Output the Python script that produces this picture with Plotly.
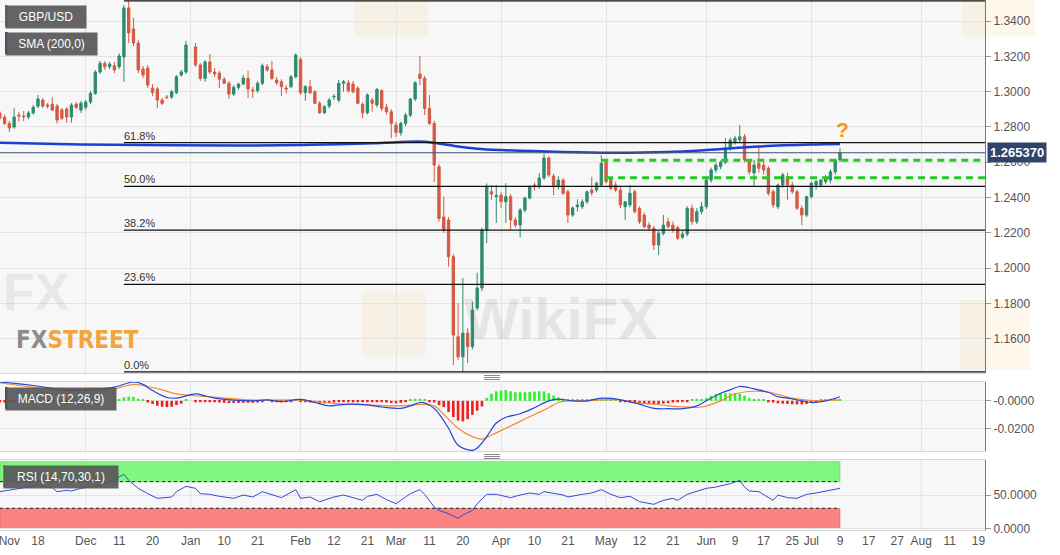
import pandas as pd
import plotly.graph_objects as go
from plotly.subplots import make_subplots

# ---------------- data ----------------
# one candle per weekday, Nov 6 2019 .. Jul 9 2020 (no candle on Jan 1)
dates = [d.strftime("%Y-%m-%d") for d in pd.bdate_range("2019-11-06", "2020-07-09")
         if d.strftime("%Y-%m-%d") != "2020-01-01"]

opens = [
    1.2879, 1.2856, 1.2820,
    1.2799, 1.2867, 1.2862, 1.2856, 1.2879,
    1.2918, 1.2952, 1.2924, 1.2928, 1.2918,
    1.2896, 1.2901, 1.2856, 1.2928, 1.2896,
    1.2911, 1.2941, 1.2990, 1.3111, 1.3160,
    1.3141, 1.3147, 1.3141, 1.3196, 1.3474,
    1.3355, 1.3275, 1.3128, 1.3134, 1.3020,
    1.3015, 1.2952, 1.2969, 1.2969, 1.2994,
    1.3094, 1.3111, 1.3253, 1.3151,
    1.3075, 1.3168, 1.3111, 1.3105, 1.3070,
    1.3047, 1.2986, 1.3024, 1.3043, 1.3075,
    1.3009, 1.3005, 1.3047, 1.3141, 1.3123,
    1.3066, 1.3056, 1.3020, 1.3028, 1.3084,
    1.3183, 1.2994, 1.3028, 1.2999, 1.2934,
    1.2880, 1.2918, 1.2969, 1.2952, 1.3047,
    1.3050, 1.3043, 1.3020, 1.2928, 1.2880,
    1.2952, 1.2924, 1.3005, 1.2911, 1.2886,
    1.2811, 1.2767, 1.2820, 1.2867, 1.2958,
    1.3100, 1.3075, 1.2905, 1.2820, 1.2575,
    1.2290, 1.2273, 1.2065, 1.1611, 1.1498,
    1.1632, 1.1555, 1.1774, 1.1887, 1.2216,
    1.2433, 1.2405, 1.2414, 1.2376, 1.2405,
    1.2273, 1.2244, 1.2329, 1.2397, 1.2471,
    1.2461, 1.2511, 1.2624, 1.2522, 1.2461,
    1.2499, 1.2433, 1.2301, 1.2348, 1.2348,
    1.2376, 1.2442, 1.2442, 1.2471, 1.2600,
    1.2503, 1.2471, 1.2442, 1.2348, 1.2358,
    1.2433, 1.2339, 1.2301, 1.2244, 1.2226,
    1.2131, 1.2197, 1.2263, 1.2244, 1.2230,
    1.2175, 1.2193, 1.2339, 1.2263, 1.2320,
    1.2348, 1.2499, 1.2556, 1.2575, 1.2600,
    1.2679, 1.2716, 1.2726, 1.2744, 1.2603,
    1.2539, 1.2594, 1.2584, 1.2566, 1.2433,
    1.2348, 1.2471, 1.2518, 1.2471, 1.2433,
    1.2339, 1.2301, 1.2405, 1.2471, 1.2471,
    1.2490, 1.2499, 1.2546, 1.2613,
]
highs = [
    1.2890, 1.2870, 1.2833,
    1.2907, 1.2884, 1.2890, 1.2890, 1.2925,
    1.2981, 1.2964, 1.2935, 1.2969, 1.2930,
    1.2907, 1.2913, 1.2935, 1.2941, 1.2947,
    1.2952, 1.3003, 1.3122, 1.3173, 1.3173,
    1.3168, 1.3168, 1.3217, 1.3491, 1.3514,
    1.3417, 1.3292, 1.3145, 1.3150, 1.3043,
    1.3026, 1.2964, 1.2981, 1.3009, 1.3094,
    1.3123, 1.3287, 1.3275, 1.3162,
    1.3179, 1.3213, 1.3134, 1.3117, 1.3084,
    1.3060, 1.3037, 1.3050, 1.3094, 1.3118,
    1.3028, 1.3060, 1.3160, 1.3156, 1.3173,
    1.3084, 1.3070, 1.3037, 1.3094, 1.3217,
    1.3195, 1.3037, 1.3066, 1.3009, 1.2946,
    1.2924, 1.2964, 1.2986, 1.3066, 1.3066,
    1.3066, 1.3060, 1.3030, 1.2940, 1.2990,
    1.2964, 1.3020, 1.3015, 1.2930, 1.2900,
    1.2830, 1.2830, 1.2880, 1.2964, 1.3060,
    1.3202, 1.3090, 1.2981, 1.2835, 1.2590,
    1.2405, 1.2290, 1.2080, 1.1802, 1.1944,
    1.1660, 1.1810, 1.1974, 1.2230, 1.2480,
    1.2471, 1.2471, 1.2430, 1.2481, 1.2420,
    1.2290, 1.2340, 1.2405, 1.2470, 1.2485,
    1.2539, 1.2647, 1.2635, 1.2535, 1.2520,
    1.2510, 1.2445, 1.2350, 1.2390, 1.2390,
    1.2440, 1.2518, 1.2490, 1.2641, 1.2615,
    1.2515, 1.2490, 1.2460, 1.2375, 1.2471,
    1.2445, 1.2350, 1.2315, 1.2260, 1.2240,
    1.2210, 1.2301, 1.2285, 1.2265, 1.2240,
    1.2210, 1.2350, 1.2360, 1.2340, 1.2375,
    1.2510, 1.2570, 1.2595, 1.2610, 1.2737,
    1.2740, 1.2750, 1.2810, 1.2760, 1.2615,
    1.2613, 1.2688, 1.2610, 1.2580, 1.2445,
    1.2480, 1.2540, 1.2540, 1.2490, 1.2445,
    1.2355, 1.2410, 1.2490, 1.2500, 1.2505,
    1.2530, 1.2560, 1.2620, 1.2679,
]
lows = [
    1.2839, 1.2811, 1.2771,
    1.2790, 1.2830, 1.2833, 1.2845, 1.2870,
    1.2907, 1.2907, 1.2905, 1.2890, 1.2820,
    1.2839, 1.2824, 1.2824, 1.2901, 1.2879,
    1.2896, 1.2928, 1.2981, 1.3100, 1.3123,
    1.3128, 1.3105, 1.3128, 1.3056, 1.3275,
    1.3258, 1.3105, 1.3077, 1.3020, 1.2975,
    1.2905, 1.2924, 1.2958, 1.2958, 1.2986,
    1.3084, 1.3100, 1.3141, 1.3060,
    1.3056, 1.3100, 1.3084, 1.3020, 1.3043,
    1.2958, 1.2975, 1.3009, 1.3037, 1.2964,
    1.2964, 1.2994, 1.3037, 1.3111, 1.3066,
    1.3037, 1.2975, 1.2990, 1.3020, 1.3075,
    1.2981, 1.2948, 1.2986, 1.2928, 1.2873,
    1.2873, 1.2905, 1.2952, 1.2940, 1.2999,
    1.2994, 1.2990, 1.2928, 1.2849, 1.2870,
    1.2886, 1.2911, 1.2890, 1.2870, 1.2737,
    1.2743, 1.2750, 1.2805, 1.2856, 1.2946,
    1.3037, 1.2867, 1.2811, 1.2488, 1.2263,
    1.2200, 1.2008, 1.1451, 1.1480, 1.1412,
    1.1462, 1.1540, 1.1760, 1.1870, 1.2142,
    1.2386, 1.2256, 1.2341, 1.2256, 1.2216,
    1.2230, 1.2175, 1.2315, 1.2390, 1.2440,
    1.2450, 1.2500, 1.2515, 1.2414, 1.2445,
    1.2415, 1.2256, 1.2290, 1.2320, 1.2335,
    1.2365, 1.2410, 1.2430, 1.2460, 1.2480,
    1.2440, 1.2430, 1.2340, 1.2273, 1.2345,
    1.2310, 1.2250, 1.2225, 1.2210, 1.2103,
    1.2075, 1.2185, 1.2225, 1.2200, 1.2160,
    1.2165, 1.2180, 1.2245, 1.2250, 1.2305,
    1.2335, 1.2485, 1.2540, 1.2560, 1.2590,
    1.2665, 1.2700, 1.2715, 1.2600, 1.2530,
    1.2461, 1.2540, 1.2530, 1.2410, 1.2340,
    1.2335, 1.2455, 1.2386, 1.2420, 1.2330,
    1.2244, 1.2290, 1.2395, 1.2445, 1.2460,
    1.2475, 1.2480, 1.2530, 1.2600,
]
closes = [
    1.2850, 1.2820, 1.2794,
    1.2856, 1.2862, 1.2858, 1.2879, 1.2911,
    1.2958, 1.2918, 1.2918, 1.2896, 1.2839,
    1.2849, 1.2856, 1.2924, 1.2911, 1.2934,
    1.2941, 1.2990, 1.3111, 1.3160, 1.3141,
    1.3156, 1.3123, 1.3202, 1.3474, 1.3332,
    1.3275, 1.3123, 1.3094, 1.3037, 1.2994,
    1.2952, 1.2934, 1.2966, 1.2999, 1.3084,
    1.3111, 1.3264, 1.3151, 1.3075,
    1.3168, 1.3111, 1.3100, 1.3070, 1.3047,
    1.2986, 1.3024, 1.3043, 1.3077, 1.3015,
    1.3005, 1.3047, 1.3147, 1.3123, 1.3075,
    1.3050, 1.3028, 1.3015, 1.3084, 1.3207,
    1.2994, 1.3028, 1.2994, 1.2934, 1.2880,
    1.2914, 1.2952, 1.2973, 1.3047, 1.3056,
    1.3005, 1.2999, 1.2934, 1.2880, 1.2981,
    1.2934, 1.3013, 1.2905, 1.2886, 1.2820,
    1.2769, 1.2820, 1.2867, 1.2958, 1.3050,
    1.3075, 1.2905, 1.2820, 1.2584, 1.2282,
    1.2216, 1.2065, 1.1621, 1.1498, 1.1632,
    1.1555, 1.1763, 1.1887, 1.2216, 1.2461,
    1.2420, 1.2411, 1.2376, 1.2405, 1.2273,
    1.2244, 1.2329, 1.2397, 1.2461, 1.2461,
    1.2511, 1.2624, 1.2528, 1.2461, 1.2499,
    1.2424, 1.2301, 1.2341, 1.2358, 1.2376,
    1.2433, 1.2427, 1.2481, 1.2594, 1.2490,
    1.2452, 1.2442, 1.2358, 1.2376, 1.2424,
    1.2320, 1.2263, 1.2235, 1.2226, 1.2131,
    1.2197, 1.2244, 1.2235, 1.2216, 1.2169,
    1.2193, 1.2339, 1.2263, 1.2320, 1.2348,
    1.2499, 1.2556, 1.2584, 1.2600, 1.2679,
    1.2726, 1.2735, 1.2744, 1.2613, 1.2546,
    1.2584, 1.2566, 1.2556, 1.2424, 1.2358,
    1.2471, 1.2528, 1.2471, 1.2433, 1.2339,
    1.2301, 1.2405, 1.2481, 1.2490, 1.2499,
    1.2511, 1.2546, 1.2613, 1.26537,
]

# MACD histogram, one bar per candle
macd_hist = [
    -0.0012, -0.0012, -0.0012,
    -0.0010, -0.0010, -0.0010, -0.0010, -0.0010,
    -0.0010, -0.0010, -0.0010, -0.0010, -0.0010,
    -0.0010, -0.0010, -0.0010, -0.0010, -0.0010,
    0.0010, 0.0010, 0.0010, 0.0010, 0.0010,
    0.0010, 0.0010, 0.0012, 0.0025, 0.0030,
    0.0028, 0.0015, 0.0010, -0.0012, -0.0022,
    -0.0035, -0.0042, -0.0045, -0.0042, -0.0030,
    -0.0020, 0.0010, -0.0010, -0.0010,
    -0.0010, -0.0010, -0.0010, -0.0012, -0.0014,
    -0.0016, -0.0016, -0.0015, -0.0014, -0.0014,
    -0.0014, -0.0012, -0.0010, 0.0010, -0.0010,
    -0.0010, -0.0010, -0.0010, -0.0010, 0.0010,
    -0.0010, -0.0010, -0.0012, -0.0015, -0.0017,
    -0.0017, -0.0015, -0.0012, -0.0010, -0.0010,
    -0.0010, -0.0010, -0.0010, -0.0010, -0.0010,
    -0.0010, -0.0010, -0.0010, -0.0012, -0.0016,
    -0.0018, -0.0014, -0.0010, 0.0010, 0.0014,
    0.0015, 0.0010, -0.0010, -0.0012, -0.0030,
    -0.0045, -0.0080, -0.0115, -0.0140, -0.0146,
    -0.0130, -0.0100, -0.0070, -0.0040, 0.0020,
    0.0050, 0.0068, 0.0073, 0.0078, 0.0068,
    0.0061, 0.0061, 0.0061, 0.0063, 0.0066,
    0.0068, 0.0068, 0.0054, 0.0037, 0.0024,
    0.0014, 0.0010, 0.0010, 0.0010, 0.0010,
    0.0010, 0.0010, 0.0010, 0.0012, 0.0012,
    0.0011, 0.0010, -0.0010, -0.0010, -0.0010,
    -0.0012, -0.0017, -0.0020, -0.0024, -0.0024,
    -0.0024, -0.0020, -0.0017, -0.0012, -0.0010,
    -0.0010, -0.0010, 0.0010, 0.0010, 0.0010,
    0.0020, 0.0036, 0.0049, 0.0051, 0.0054,
    0.0054, 0.0054, 0.0049, 0.0036, 0.0020,
    0.0010, 0.0010, 0.0010, -0.0010, -0.0012,
    -0.0018, -0.0020, -0.0022, -0.0024, -0.0026,
    -0.0025, -0.0022, -0.0015, -0.0010, 0.0010,
    0.0010, 0.0010, 0.0012, 0.0012,
]

# SMA(200) read at a few points
sma_dates = ["2019-11-06", "2019-11-29", "2019-12-27", "2020-02-03", "2020-02-24",
             "2020-03-10", "2020-03-17", "2020-03-25", "2020-04-01", "2020-04-20",
             "2020-05-04", "2020-05-20", "2020-06-01", "2020-06-16", "2020-07-01",
             "2020-07-09"]
sma_values = [1.2710, 1.2701, 1.2696, 1.2697, 1.2707, 1.2716, 1.2697, 1.2677, 1.2669,
              1.2658, 1.2654, 1.2658, 1.2669, 1.2689, 1.2700, 1.2703]

macd_dates = ["2019-11-06", "2019-11-15", "2019-11-26", "2019-12-05", "2019-12-10",
              "2019-12-16", "2019-12-18", "2019-12-20", "2019-12-25", "2019-12-27",
              "2020-01-02", "2020-01-06", "2020-01-08", "2020-01-14", "2020-01-20",
              "2020-01-23", "2020-01-28", "2020-02-03", "2020-02-06", "2020-02-11",
              "2020-02-13", "2020-02-18", "2020-02-21", "2020-02-26", "2020-03-03",
              "2020-03-05", "2020-03-09", "2020-03-10", "2020-03-12", "2020-03-13",
              "2020-03-17", "2020-03-19", "2020-03-24", "2020-03-25", "2020-03-27",
              "2020-03-31", "2020-04-02", "2020-04-07", "2020-04-10", "2020-04-15",
              "2020-04-17", "2020-04-22", "2020-04-27", "2020-04-30", "2020-05-04",
              "2020-05-07", "2020-05-12", "2020-05-15", "2020-05-20", "2020-05-25",
              "2020-05-28", "2020-06-01", "2020-06-04", "2020-06-08", "2020-06-10",
              "2020-06-15", "2020-06-18", "2020-06-22", "2020-06-24", "2020-06-29",
              "2020-07-01", "2020-07-06", "2020-07-09"]
macd_values = [0.0134, 0.0109, 0.0078, 0.0085, 0.0097,
               0.0134, 0.0117, 0.0073, 0.0024, 0.0019,
               0.0049, 0.0036, 0.0019, 0.0005, 0.0000,
               0.0007, -0.0005, 0.0010, -0.0012, -0.0036,
               -0.0029, -0.0024, -0.0029, -0.0044, -0.0054,
               -0.0036, -0.0012, -0.0015, -0.0054, -0.0092,
               -0.0195, -0.0316, -0.0353, -0.0336, -0.0255,
               -0.0158, -0.0117, -0.0092, -0.0049, 0.0000,
               0.0012, 0.0000, 0.0000, 0.0019, 0.0017,
               0.0000, -0.0024, -0.0054, -0.0056, -0.0056,
               -0.0036, 0.0000, 0.0054, 0.0078, 0.0102,
               0.0085, 0.0061, 0.0029, 0.0019, 0.0000,
               -0.0012, 0.0000, 0.0029]

signal_dates = ["2019-11-06", "2019-11-15", "2019-11-26", "2019-12-05", "2019-12-10",
                "2019-12-16", "2019-12-18", "2019-12-24", "2019-12-27", "2020-01-02",
                "2020-01-06", "2020-01-10", "2020-01-17", "2020-01-23", "2020-02-03",
                "2020-02-06", "2020-02-12", "2020-02-17", "2020-02-21", "2020-03-03",
                "2020-03-09", "2020-03-12", "2020-03-16", "2020-03-19", "2020-03-24",
                "2020-03-26", "2020-03-30", "2020-04-02", "2020-04-07", "2020-04-10",
                "2020-04-15", "2020-04-17", "2020-04-22", "2020-04-27", "2020-04-30",
                "2020-05-06", "2020-05-11", "2020-05-15", "2020-05-20", "2020-05-26",
                "2020-05-29", "2020-06-04", "2020-06-09", "2020-06-15", "2020-06-18",
                "2020-06-23", "2020-06-25", "2020-06-30", "2020-07-02", "2020-07-07",
                "2020-07-09"]
signal_values = [0.0127, 0.0097, 0.0073, 0.0078, 0.0085,
                 0.0117, 0.0109, 0.0078, 0.0049, 0.0036,
                 0.0032, 0.0019, 0.0007, 0.0005, 0.0005,
                 -0.0005, -0.0019, -0.0024, -0.0029, -0.0036,
                 -0.0025, -0.0036, -0.0097, -0.0195, -0.0255,
                 -0.0273, -0.0243, -0.0195, -0.0146, -0.0097,
                 -0.0049, -0.0012, 0.0000, 0.0000, 0.0007,
                 0.0007, -0.0012, -0.0024, -0.0036, -0.0044,
                 -0.0044, 0.0000, 0.0049, 0.0068, 0.0061,
                 0.0036, 0.0019, 0.0005, 0.0000, 0.0005,
                 0.0005]

rsi_dates = ["2019-11-06", "2019-11-08", "2019-11-12", "2019-11-14", "2019-11-18",
             "2019-11-19", "2019-11-21", "2019-11-22", "2019-11-26", "2019-11-27",
             "2019-11-29", "2019-12-03", "2019-12-05", "2019-12-09", "2019-12-11",
             "2019-12-12", "2019-12-13", "2019-12-17", "2019-12-19", "2019-12-23",
             "2019-12-26", "2019-12-27", "2019-12-31", "2020-01-02", "2020-01-03",
             "2020-01-07", "2020-01-09", "2020-01-14", "2020-01-16", "2020-01-20",
             "2020-01-22", "2020-01-24", "2020-01-28", "2020-01-31", "2020-02-03",
             "2020-02-05", "2020-02-07", "2020-02-12", "2020-02-14", "2020-02-18",
             "2020-02-20", "2020-02-21", "2020-02-25", "2020-02-27", "2020-03-02",
             "2020-03-04", "2020-03-05", "2020-03-09", "2020-03-10", "2020-03-12",
             "2020-03-13", "2020-03-17", "2020-03-19", "2020-03-20", "2020-03-24",
             "2020-03-25", "2020-03-27", "2020-03-31", "2020-04-03", "2020-04-07",
             "2020-04-09", "2020-04-13", "2020-04-14", "2020-04-20", "2020-04-21",
             "2020-04-24", "2020-04-28", "2020-04-30", "2020-05-04", "2020-05-06",
             "2020-05-08", "2020-05-12", "2020-05-15", "2020-05-19", "2020-05-21",
             "2020-05-22", "2020-05-26", "2020-06-01", "2020-06-03", "2020-06-08",
             "2020-06-10", "2020-06-11", "2020-06-12", "2020-06-16", "2020-06-19",
             "2020-06-22", "2020-06-24", "2020-06-26", "2020-06-30", "2020-07-02",
             "2020-07-06", "2020-07-09"]
rsi_values = [55, 57, 60, 62, 65,
              63, 61, 55, 57, 56,
              60, 62, 65, 70, 77,
              81, 72, 60, 52, 45,
              47, 55, 63, 60, 52,
              51, 48, 45, 50, 47,
              55, 51, 46, 58, 45,
              47, 40, 47, 50, 46,
              42, 48, 51, 43, 37,
              47, 52, 58, 51, 32,
              27, 22, 15, 20, 27,
              37, 51, 51, 46, 50,
              53, 51, 55, 50, 47,
              51, 53, 58, 51, 46,
              48, 40, 36, 42, 45,
              42, 51, 60, 62, 67,
              72, 62, 56, 55, 42,
              50, 46, 45, 51, 53,
              56, 60]

fib_ratios = [0.0, 0.236, 0.382, 0.5, 0.618, 1.0]
fib_start = "2019-12-12"
support_levels = [1.2611, 1.2512]
support_starts = ["2020-04-30", "2020-05-01"]

price_ticks = [1.16, 1.18, 1.20, 1.22, 1.24, 1.26, 1.28, 1.30, 1.32, 1.34]
month_starts = ["2019-12-02", "2020-01-01", "2020-02-03", "2020-03-02", "2020-04-01",
                "2020-05-01", "2020-06-01", "2020-07-01", "2020-08-03"]
label_dates = ["2019-11-08", "2019-11-18", "2019-12-02", "2019-12-11", "2019-12-20",
               "2020-01-01", "2020-01-10", "2020-01-21", "2020-02-03", "2020-02-12",
               "2020-02-21", "2020-03-02", "2020-03-11", "2020-03-20", "2020-04-01",
               "2020-04-10", "2020-04-21", "2020-05-01", "2020-05-12", "2020-05-21",
               "2020-06-01", "2020-06-09", "2020-06-17", "2020-06-25", "2020-07-01",
               "2020-07-09", "2020-07-17", "2020-07-27", "2020-08-03", "2020-08-11",
               "2020-08-19"]
label_text = ["Nov", "18", "Dec", "11", "20", "Jan", "10", "21", "Feb", "12", "21",
              "Mar", "11", "20", "Apr", "10", "21", "May", "12", "21", "Jun", "9",
              "17", "25", "Jul", "9", "17", "27", "Aug", "11", "19"]

# ---------------- styling ----------------
GREEN = "#2e8b6f"
RED = "#d45a44"
GRID = "#e3e3e3"
FONT = "Liberation Sans, Arial, sans-serif"
x_start = "2019-11-06 01:00"
x_end = "2020-08-20 09:00"
last_close = closes[-1]

W, H = 985, 530  # plot area in px


def px_x(x):
    return x / W


def px_y(y):
    return 1 - y / H


fig = make_subplots(rows=3, cols=1, shared_xaxes=True, vertical_spacing=0)

fig.add_trace(go.Candlestick(
    x=dates, open=opens, high=highs, low=lows, close=closes,
    increasing=dict(line=dict(color=GREEN, width=1), fillcolor=GREEN),
    decreasing=dict(line=dict(color=RED, width=1), fillcolor=RED),
    whiskerwidth=0, hoverinfo="skip", showlegend=False), row=1, col=1)

fig.add_trace(go.Scatter(x=sma_dates, y=sma_values, mode="lines",
                         line=dict(color="#1f3fd1", width=2.5, shape="spline"),
                         hoverinfo="skip"), row=1, col=1)

fig.add_trace(go.Bar(x=dates, y=macd_hist,
                     marker=dict(color=["#2ff02f" if v > 0 else "#f01e1e" for v in macd_hist],
                                 line=dict(width=0)),
                     width=0.55 * 86400000, hoverinfo="skip"), row=2, col=1)
fig.add_trace(go.Scatter(x=signal_dates, y=signal_values, mode="lines",
                         line=dict(color="#f08a35", width=1.2, shape="spline"),
                         hoverinfo="skip"), row=2, col=1)
fig.add_trace(go.Scatter(x=macd_dates, y=macd_values, mode="lines",
                         line=dict(color="#2446d6", width=1.2, shape="spline"),
                         hoverinfo="skip"), row=2, col=1)

fig.add_trace(go.Scatter(x=rsi_dates, y=rsi_values, mode="lines",
                         line=dict(color="#2f4fd4", width=1), hoverinfo="skip"), row=3, col=1)

fig.update_xaxes(type="date", range=[x_start, x_end],
                 rangebreaks=[dict(bounds=["sat", "mon"])],
                 rangeslider_visible=False, showgrid=True, gridcolor=GRID,
                 tickvals=month_starts, showticklabels=False, ticks="",
                 showline=True, linecolor="#d6d6d6", zeroline=False)
fig.update_xaxes(mirror=True, row=2, col=1)
fig.update_xaxes(row=3, col=1, mirror=True, showgrid=False, tickvals=label_dates,
                 ticktext=label_text, showticklabels=True, ticklabeloverflow="allow",
                 tickfont=dict(size=12, color="#555", family=FONT))

fig.update_yaxes(side="right", showgrid=True, gridcolor=GRID, zeroline=False,
                 ticks="outside", ticklen=5, tickcolor="#999", showline=True,
                 linecolor="#777", tickfont=dict(size=12, color="#555", family=FONT))

fig.update_layout(
    width=1060, height=555,
    margin=dict(l=0, r=75, t=0, b=25),
    paper_bgcolor="white", plot_bgcolor="#f7f7f7",
    showlegend=False, font=dict(family=FONT, size=12, color="#555"),
    yaxis=dict(domain=[px_y(373), 1], range=[1.1406, 1.3519],
               tickvals=price_ticks, ticktext=[f"{v:.4f}" for v in price_ticks]),
    yaxis2=dict(domain=[px_y(451), px_y(382)], range=[-0.0357, 0.0134],
                tickvals=[0, -0.02], ticktext=["-0.0000", "-0.0200"]),
    yaxis3=dict(domain=[0, px_y(460)], range=[-2.5, 102.5],
                tickvals=[0, 50], ticktext=["0.0000", "50.0000"]),
)

shapes = []
# faint watermark tiles
for (x0, y0, x1, y1) in [(355, -8, 428, 36), (962, -8, 1035, 36), (362, 292, 425, 356),
                         (960, 300, 1030, 370)]:
    shapes.append(dict(type="rect", xref="paper", yref="paper", x0=px_x(x0), x1=px_x(x1),
                       y0=px_y(y1), y1=px_y(y0), fillcolor="rgba(243,214,130,0.16)",
                       line=dict(width=0), layer="below"))

# fibonacci levels
hi, lo = max(highs), min(lows)
for r in fib_ratios:
    lvl = lo + r * (hi - lo)
    shapes.append(dict(type="line", xref="x", yref="y", x0=fib_start, x1=x_end,
                       y0=lvl, y1=lvl, line=dict(color="#111", width=1.2)))

# current price line
shapes.append(dict(type="line", xref="x", yref="y", x0=x_start, x1=x_end,
                   y0=last_close, y1=last_close, line=dict(color="#3d5378", width=1)))

# green dashed levels
for lvl, start in zip(support_levels, support_starts):
    shapes.append(dict(type="line", xref="x", yref="y", x0=start, x1=x_end, y0=lvl, y1=lvl,
                       line=dict(color="#22cc22", width=3, dash="7px,5px")))

# RSI panel: vertical grid, zones
for m in month_starts:
    shapes.append(dict(type="line", xref="x3", yref="y3 domain", x0=m, x1=m, y0=0, y1=1,
                       line=dict(color=GRID, width=1), layer="below"))
shapes.append(dict(type="rect", xref="x3", yref="y3", x0=x_start, x1=dates[-1], y0=70, y1=100,
                   fillcolor="#80f880", line=dict(color="#55c055", width=0.5), layer="below"))
shapes.append(dict(type="rect", xref="x3", yref="y3", x0=x_start, x1=dates[-1], y0=0, y1=30,
                   fillcolor="#fa8282", line=dict(color="#d06060", width=0.5), layer="below"))
for lvl in (70, 30):
    shapes.append(dict(type="line", xref="x3", yref="y3", x0=x_start, x1=dates[-1],
                       y0=lvl, y1=lvl, line=dict(color="#222", width=1, dash="dot")))

# panel handles
for base in (375.5, 454.5):
    for k in range(3):
        yy = px_y(base + 2 * k)
        shapes.append(dict(type="line", xref="paper", yref="paper", x0=px_x(484), x1=px_x(500),
                           y0=yy, y1=yy, line=dict(color="#8a8a8a", width=1)))

# legend boxes: colour strips
for (x0, y0, y1, col) in [(5, 5, 27, GREEN), (5, 32, 54, "#1f3fd1"),
                          (5, 387, 409, "#1f3fd1"), (3, 465, 487, "#22dd22")]:
    shapes.append(dict(type="rect", xref="paper", yref="paper", x0=px_x(x0), x1=px_x(x0 + 2.5),
                       y0=px_y(y1), y1=px_y(y0), fillcolor=col, line=dict(width=0)))

fig.update_layout(shapes=shapes)

ann = []
# watermarks
ann.append(dict(xref="paper", yref="paper", x=px_x(560), y=px_y(318), text="<b>WikiFX</b>",
                showarrow=False, font=dict(size=58, color="rgba(110,110,110,0.13)", family=FONT)))
ann.append(dict(xref="paper", yref="paper", x=px_x(1), y=px_y(292), xanchor="left",
                text="<b>FX</b>", showarrow=False,
                font=dict(size=52, color="rgba(110,110,110,0.10)", family=FONT)))
ann.append(dict(xref="paper", yref="paper", x=px_x(14), y=px_y(340), xanchor="left",
                text="<b><span style='color:#8c8c8c'>FX</span>"
                     "<span style='color:#f2a53c'>STREET</span></b>",
                showarrow=False,
                font=dict(size=24, family="DejaVu Sans Condensed, Liberation Sans Narrow, "
                                          "Liberation Sans, sans-serif")))

# fib labels
for r in fib_ratios[:-1]:
    lvl = lo + r * (hi - lo)
    ann.append(dict(xref="x", yref="y", x=fib_start, y=lvl, xanchor="left", yanchor="bottom",
                    text=f"{r * 100:.1f}%", showarrow=False, xshift=-2, yshift=-1,
                    font=dict(size=11, color="#333", family=FONT)))

# question mark
ann.append(dict(xref="x", yref="y", x=dates[-1], y=1.2788, text="<b>?</b>", showarrow=False,
                xshift=3, font=dict(size=21, color="#f39a1e", family=FONT)))

# last price box
ann.append(dict(xref="paper", yref="y", x=1, y=last_close, xanchor="left", xshift=2,
                text=f"<b>{last_close:.6f}</b>", showarrow=False, bgcolor="#2f4468",
                borderpad=2, font=dict(size=13, color="white", family=FONT)))

# legend labels
for (x0, y0, w, txt) in [(5, 5, 80, "GBP/USD"), (5, 32, 91, "SMA (200,0)"),
                         (5, 387, 110, "MACD (12,26,9)"), (3, 465, 114, "RSI (14,70,30,1)")]:
    ann.append(dict(xref="paper", yref="paper", x=px_x(x0), y=px_y(y0), xanchor="left",
                    yanchor="top", text=txt, showarrow=False, width=w - 6, height=16,
                    bgcolor="rgba(88,88,88,0.93)", borderpad=3,
                    font=dict(size=12, color="white", family=FONT)))

fig.update_layout(annotations=ann)

fig.write_html("out.html", config={"displayModeBar": False},
               post_script="document.body.style.margin='0px';")
